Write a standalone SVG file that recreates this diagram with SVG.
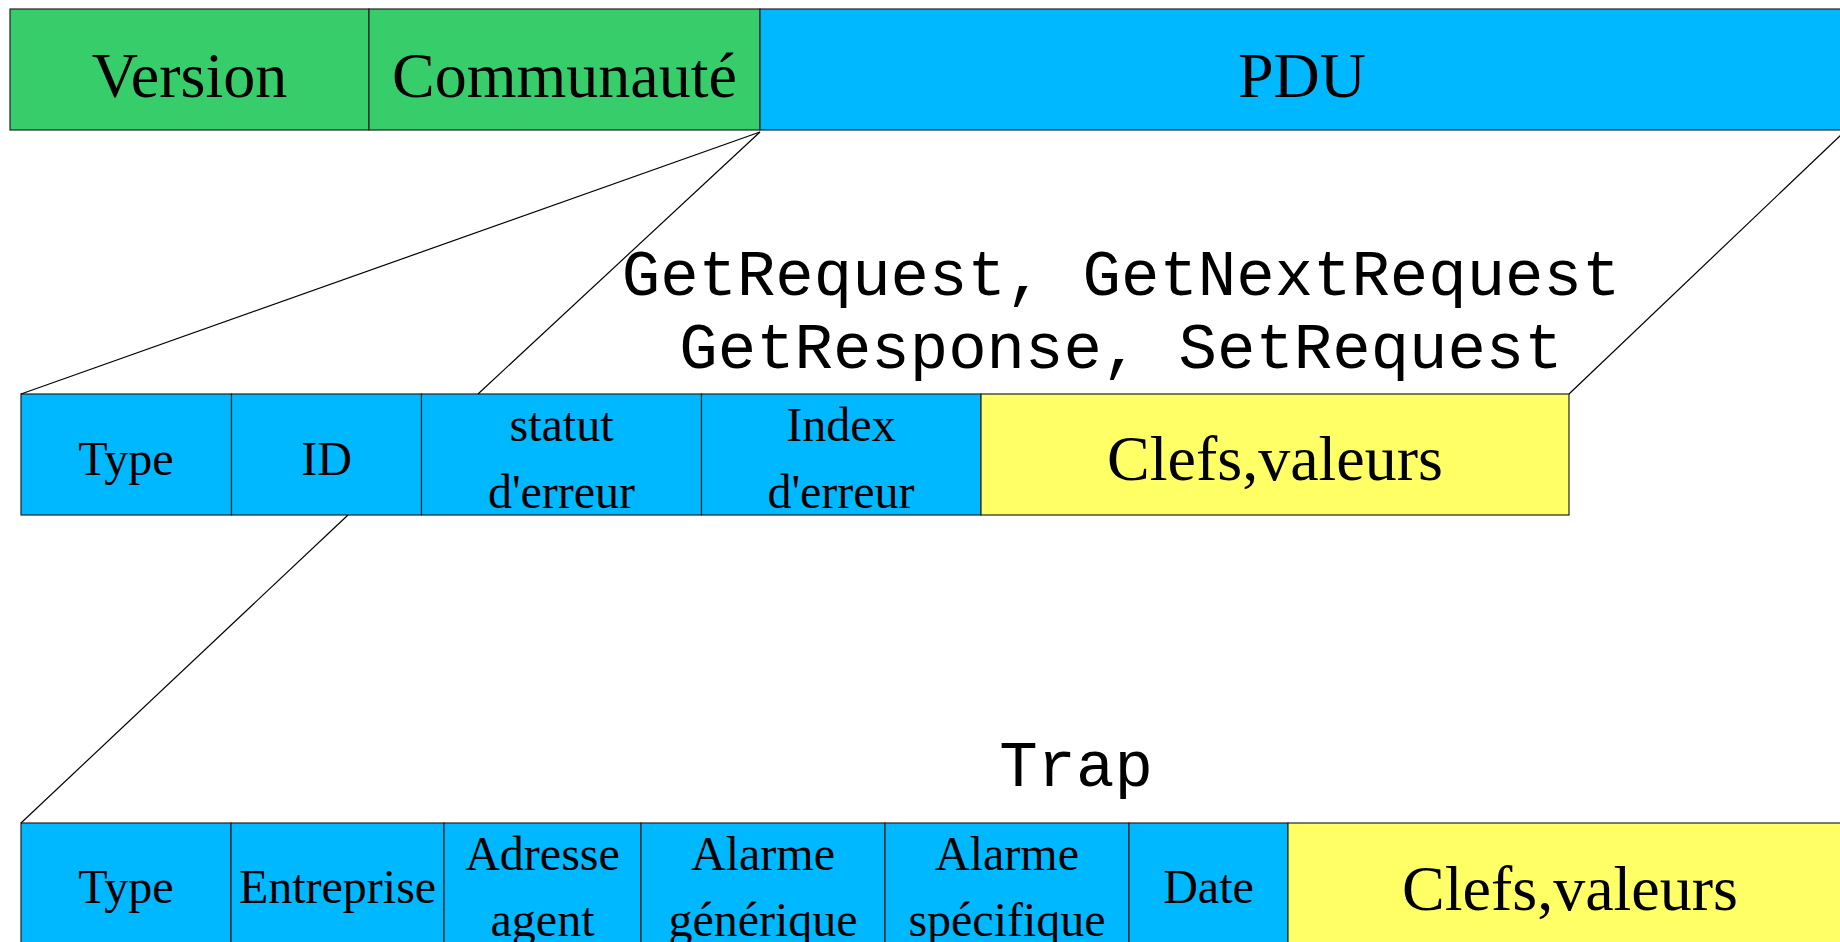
<svg xmlns="http://www.w3.org/2000/svg" width="1840" height="942" viewBox="0 0 1840 942">
<style>
.g{fill:#37cd6b}
.b{fill:#00b8ff}
.y{fill:#ffff66}
.box{stroke:#222;stroke-width:1.2}
.frame{fill:none;stroke:#444;stroke-width:2}
.big{font-family:"Liberation Serif",serif;font-size:64px;fill:#000;text-anchor:middle}
.sm{font-family:"Liberation Serif",serif;font-size:48px;fill:#000;text-anchor:middle}
.mono{font-family:"Liberation Mono",monospace;font-size:64px;fill:#000;text-anchor:middle}
.conn line{stroke:#000;stroke-width:1.2}
</style>
<rect width="1840" height="942" fill="#fff"/>
<g id="top">
<g id="version"><rect class="g box" x="10" y="9" width="359" height="121"/><text class="big" x="189.5" y="97">Version</text></g>
<g id="communaute"><rect class="g box" x="369" y="9" width="391" height="121"/><text class="big" x="564.5" y="97">Communauté</text></g>
<g id="pdu"><rect class="b box" x="760" y="9" width="1090" height="121"/><text class="big" x="1302" y="97">PDU</text></g>
</g>
<g id="getlabel"><text class="mono" x="1121" y="295">GetRequest, GetNextRequest</text><text class="mono" x="1121" y="368">GetResponse, SetRequest</text></g>
<g id="mid">
<g id="m-type"><rect class="b box" x="21" y="394" width="210.5" height="121"/><text class="sm" x="126" y="475">Type</text></g>
<g id="m-id"><rect class="b box" x="231.5" y="394" width="190" height="121"/><text class="sm" x="326.5" y="475">ID</text></g>
<g id="m-statut"><rect class="b box" x="421.5" y="394" width="280" height="121"/><text class="sm" x="561.5" y="441">statut</text><text class="sm" x="561.5" y="507.5">d'erreur</text></g>
<g id="m-index"><rect class="b box" x="701.5" y="394" width="279.5" height="121"/><text class="sm" x="841" y="441">Index</text><text class="sm" x="841" y="507.5">d'erreur</text></g>
<g id="m-clefs"><rect class="y box" x="981" y="394" width="588" height="121"/><text class="big" x="1275" y="480">Clefs,valeurs</text></g>
</g>
<g id="traplabel"><text class="mono" x="1076" y="786">Trap</text></g>
<g id="bot">
<g id="b-type"><rect class="b box" x="21" y="823" width="210" height="130"/><text class="sm" x="126" y="903">Type</text></g>
<g id="b-entreprise"><rect class="b box" x="231" y="823" width="213" height="130"/><text class="sm" x="337.5" y="903">Entreprise</text></g>
<g id="b-adresse"><rect class="b box" x="444" y="823" width="197" height="130"/><text class="sm" x="542.5" y="870">Adresse</text><text class="sm" x="542.5" y="936">agent</text></g>
<g id="b-alarmegen"><rect class="b box" x="641" y="823" width="244" height="130"/><text class="sm" x="763" y="870">Alarme</text><text class="sm" x="763" y="936">générique</text></g>
<g id="b-alarmespec"><rect class="b box" x="885" y="823" width="244" height="130"/><text class="sm" x="1007" y="870">Alarme</text><text class="sm" x="1007" y="936">spécifique</text></g>
<g id="b-date"><rect class="b box" x="1129" y="823" width="159" height="130"/><text class="sm" x="1208.5" y="903">Date</text></g>
<g id="b-clefs"><rect class="y box" x="1288" y="823" width="570" height="130"/><text class="big" x="1570" y="910">Clefs,valeurs</text></g>
</g>
<g id="connectors" class="conn">
<line x1="760" y1="132" x2="21" y2="394"/>
<line x1="760" y1="132" x2="478" y2="394"/>
<line x1="1844" y1="132" x2="1569" y2="394"/>
<line x1="348" y1="515" x2="21" y2="823"/>
</g>
</svg>
